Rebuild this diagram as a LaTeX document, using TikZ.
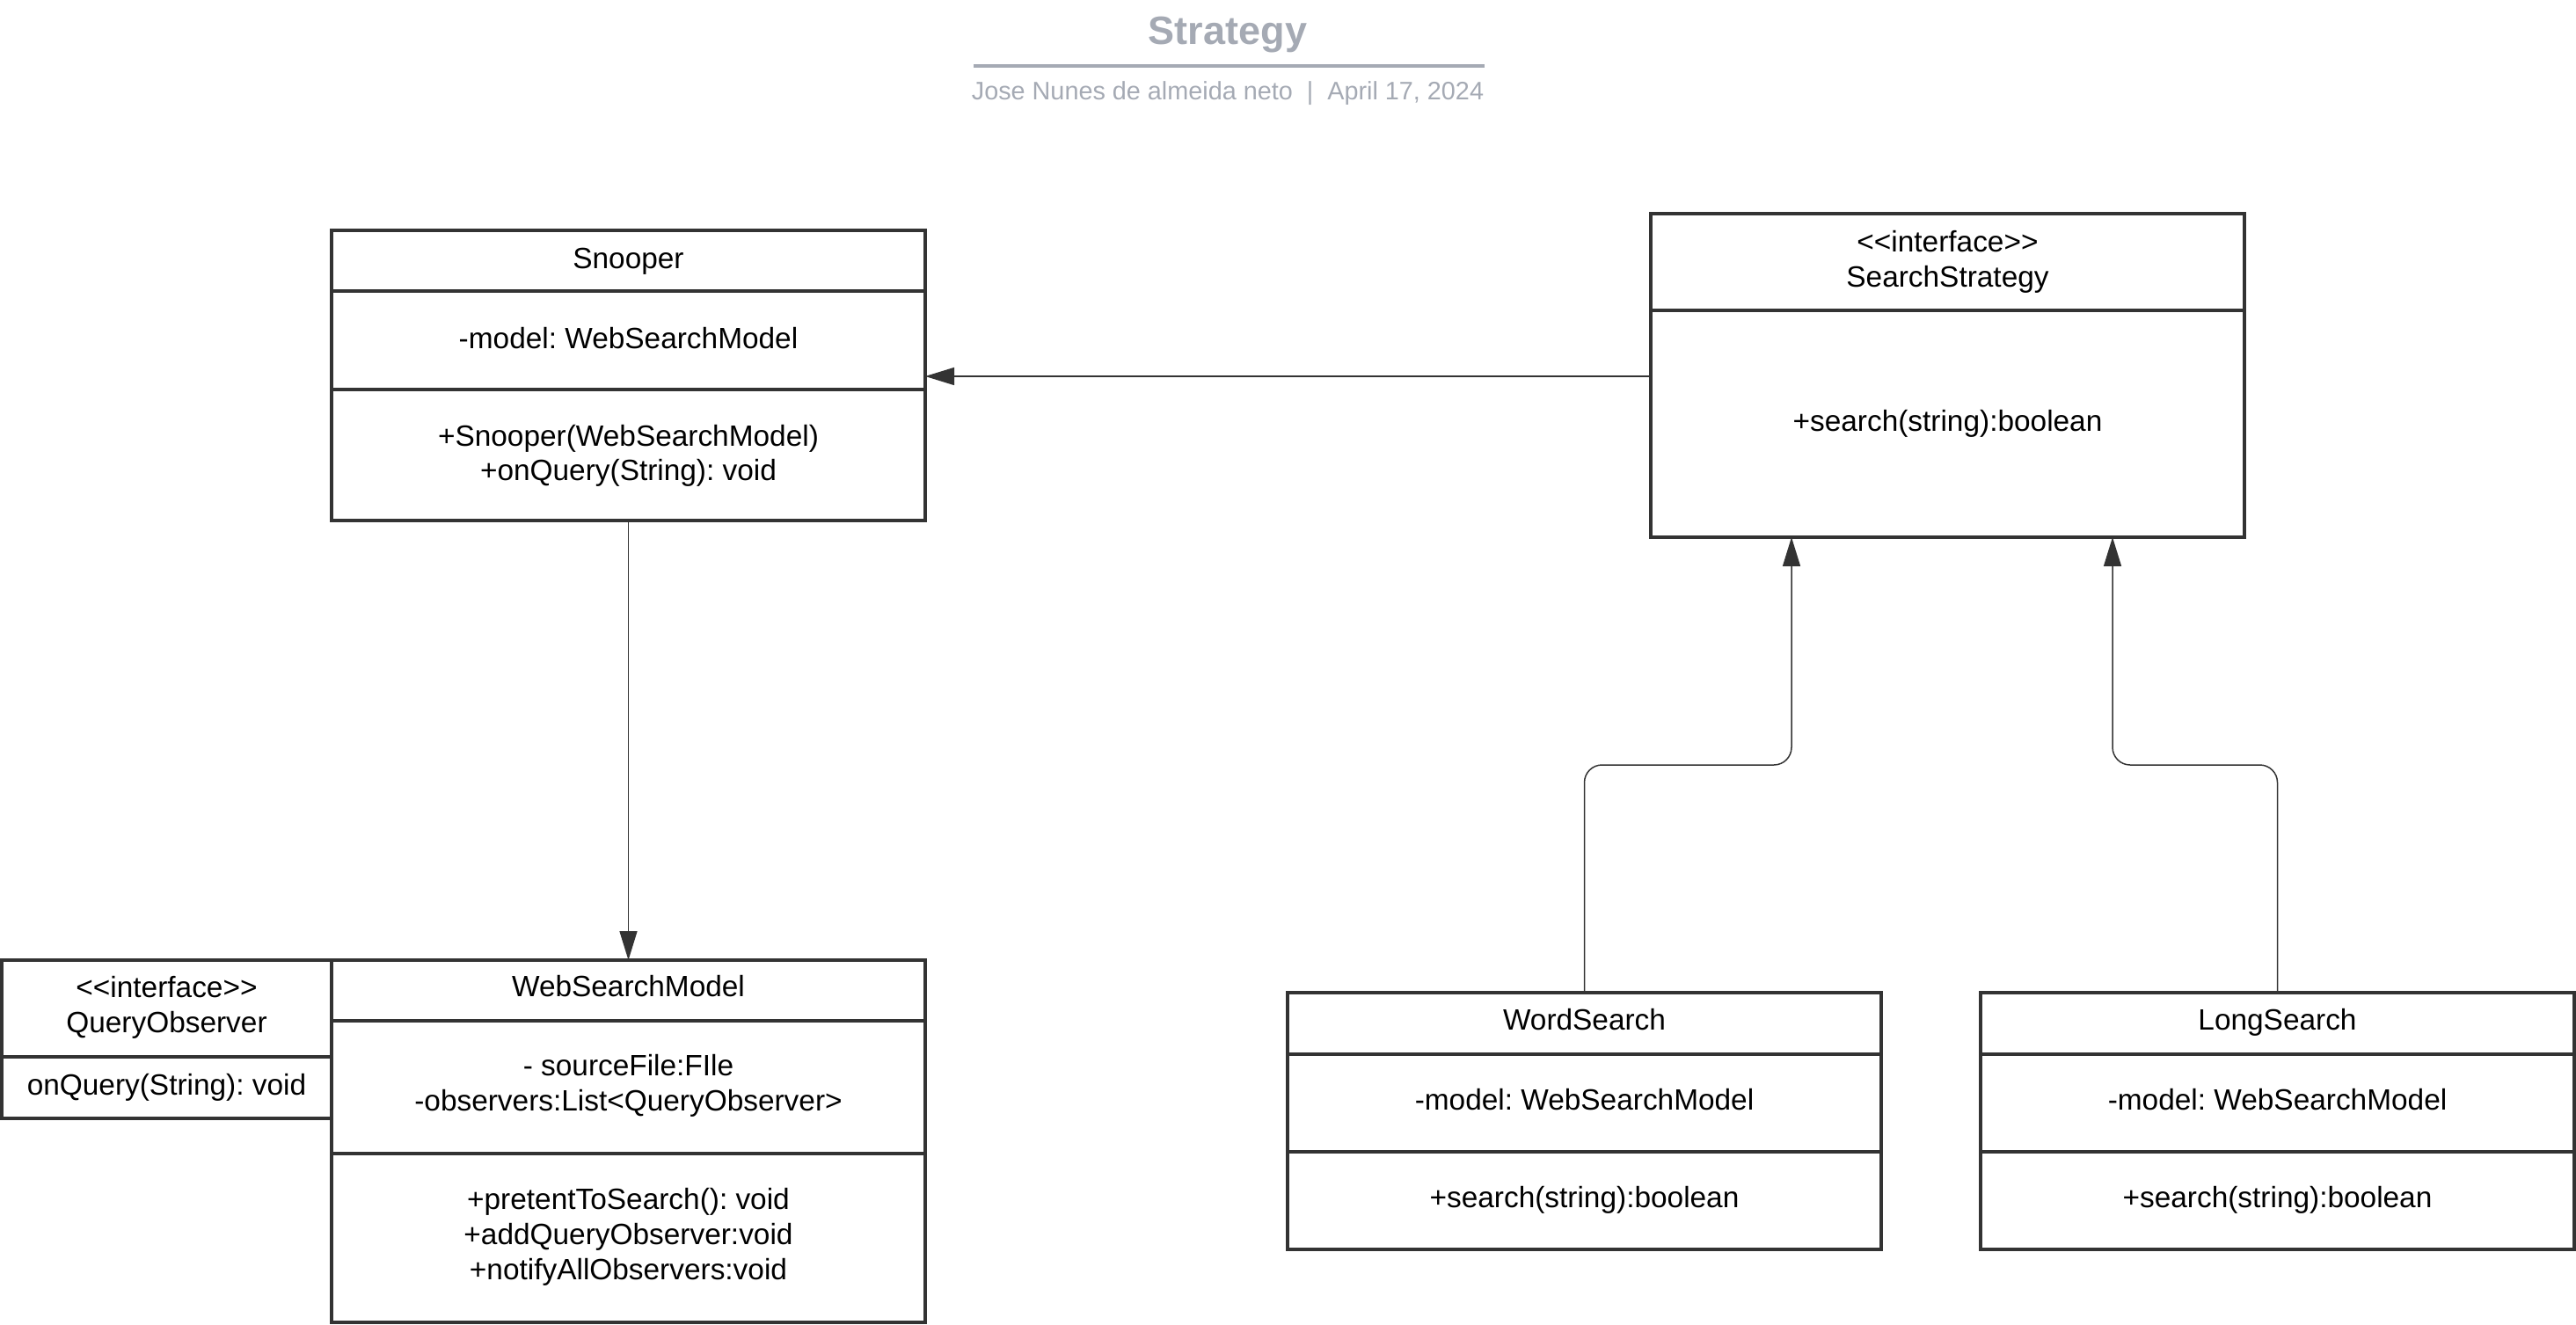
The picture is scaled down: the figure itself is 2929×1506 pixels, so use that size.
\documentclass[tikz,border=0pt]{standalone}
\usepackage{fontspec}
\setmainfont{Liberation Sans}[Ligatures=TeXOff]
\usetikzlibrary{arrows.meta}
\definecolor{linec}{HTML}{333333}
\definecolor{titleg}{HTML}{A5AAB4}
\frenchspacing
\begin{document}
\begin{tikzpicture}[x=0.5pt,y=-0.5pt,
  frame/.style={draw=linec, line width=1.65pt, inner sep=0pt, outer sep=0pt, anchor=north west, minimum width=337.5pt},
  divider/.style={draw=linec, line width=1.65pt},
  txt/.style={font=\fontsize{16.7pt}{20pt}\selectfont, inner sep=0pt, anchor=base},
  conn/.style={draw=linec, line width=0.75pt, -{Triangle[length=16.5pt,width=10pt]}},
]
\useasboundingbox (0,0) rectangle (2929,1506);

% title
\node[font=\bfseries\fontsize{22.5pt}{27pt}\selectfont, text=titleg, inner sep=0pt, anchor=base] (title) at (1396,50) {Strategy};
\coordinate (tl) at (1107,75);
\coordinate (tr) at (1688,75);
\draw[titleg, line width=2pt] (tl) -- (tr);
\node[font=\fontsize{14.4pt}{17pt}\selectfont, text=titleg, inner sep=0pt, anchor=base] (subtitle) at (1396,113) {Jose Nunes de almeida neto \ | \ April 17, 2024};

% Snooper
\node[frame, minimum height=165pt] (snooper) at (377,262) {};
\draw[divider] (snooper.west |- 0,331) -- (snooper.east |- 0,331);
\draw[divider] (snooper.west |- 0,443) -- (snooper.east |- 0,443);
\node[txt] (snN) at (714.5,305) {Snooper};
\node[txt] (snA) at (714.5,396) {-model: WebSearchModel};
\node[txt] (snM1) at (714.5,507) {+Snooper(WebSearchModel)};
\node[txt] (snM2) at (714.5,546) {+onQuery(String): void};

% SearchStrategy
\node[frame, minimum height=184pt] (ss) at (1877,243) {};
\draw[divider] (ss.west |- 0,353) -- (ss.east |- 0,353);
\node[txt] (ssS) at (2214.5,286) {<<interface>>};
\node[txt] (ssN) at (2214.5,326) {SearchStrategy};
\node[txt] (ssM) at (2214.5,490) {+search(string):boolean};

% WebSearchModel
\node[frame, minimum height=206pt] (wsm) at (377,1092) {};
\draw[divider] (wsm.west |- 0,1161) -- (wsm.east |- 0,1161);
\draw[divider] (wsm.west |- 0,1312) -- (wsm.east |- 0,1312);
\node[txt] (wsmN) at (714.5,1133) {WebSearchModel};
\node[txt] (wsmA1) at (714.5,1223) {- sourceFile:FIle};
\node[txt] (wsmA2) at (714.5,1263) {-observers:List<QueryObserver>};
\node[txt] (wsmM1) at (714.5,1375) {+pretentToSearch(): void};
\node[txt] (wsmM2) at (714.5,1415) {+addQueryObserver:void};
\node[txt] (wsmM3) at (714.5,1455) {+notifyAllObservers:void};

% QueryObserver
\node[frame, minimum width=187.5pt, minimum height=90pt] (qo) at (2,1092) {};
\draw[divider] (qo.west |- 0,1202) -- (qo.east |- 0,1202);
\node[txt] (qoS) at (189.5,1134) {<<interface>>};
\node[txt] (qoN) at (189.5,1174) {QueryObserver};
\node[txt] (qoM) at (189.5,1245) {onQuery(String): void};

% WordSearch
\node[frame, minimum height=146pt] (ws) at (1464,1129) {};
\draw[divider] (ws.west |- 0,1199) -- (ws.east |- 0,1199);
\draw[divider] (ws.west |- 0,1310) -- (ws.east |- 0,1310);
\node[txt] (wsN) at (1801.5,1171) {WordSearch};
\node[txt] (wsA) at (1801.5,1262) {-model: WebSearchModel};
\node[txt] (wsM) at (1801.5,1373) {+search(string):boolean};

% LongSearch
\node[frame, minimum height=146pt] (ls) at (2252,1129) {};
\draw[divider] (ls.west |- 0,1199) -- (ls.east |- 0,1199);
\draw[divider] (ls.west |- 0,1310) -- (ls.east |- 0,1310);
\node[txt] (lsN) at (2589.5,1171) {LongSearch};
\node[txt] (lsA) at (2589.5,1262) {-model: WebSearchModel};
\node[txt] (lsM) at (2589.5,1373) {+search(string):boolean};

% connectors
\coordinate (ay) at (0,428);
\draw[conn] (ss.west |- ay) -- (snooper.east |- ay);
\draw[conn] (snooper.south) -- (wsm.north);
\coordinate (wsk) at (2037,870);
\coordinate (lsk) at (2402,870);
\draw[conn, rounded corners=10pt] (ws.north) |- (wsk) -- (ss.south -| wsk);
\draw[conn, rounded corners=10pt] (ls.north) |- (lsk) -- (ss.south -| lsk);
\end{tikzpicture}
\end{document}
